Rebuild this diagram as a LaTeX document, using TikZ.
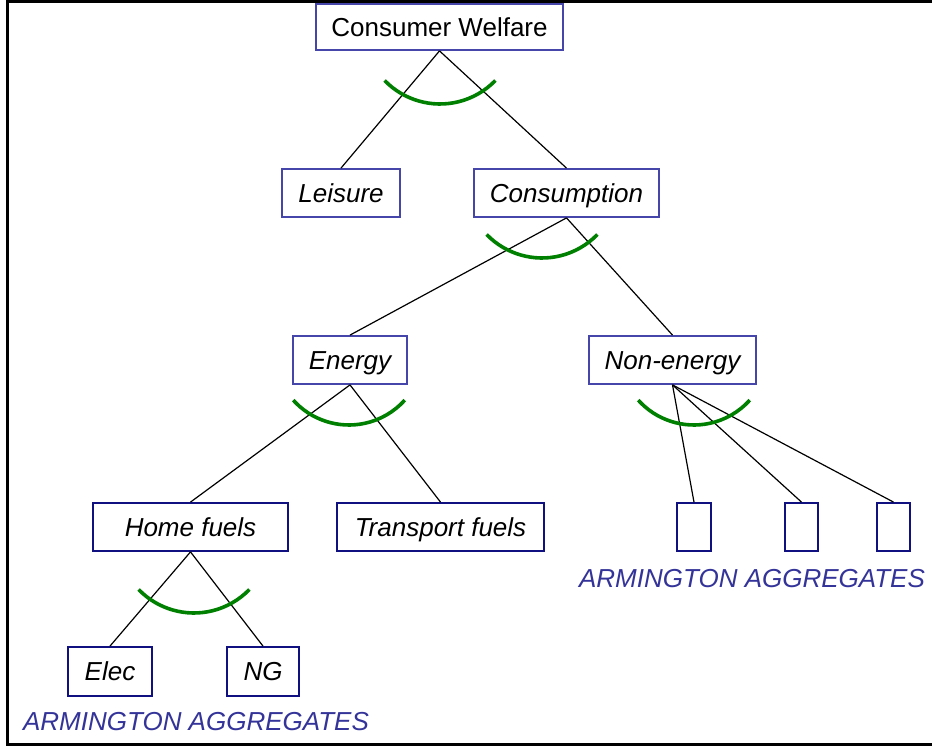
\documentclass[tikz,border=0pt]{standalone}
\usepackage{fontspec}
\setmainfont{Liberation Sans}
\definecolor{boxhi}{RGB}{70,70,170}
\definecolor{boxlo}{RGB}{16,16,128}
\definecolor{armc}{RGB}{51,51,153}
\definecolor{cesgreen}{RGB}{0,128,0}
\begin{document}
\begin{tikzpicture}[x=1pt,y=1pt,
  every node/.style={font=\fontsize{26}{30}\selectfont, inner sep=0pt, text height=18.7pt, text depth=0pt},
  it/.style={font=\fontsize{26}{30}\selectfont\itshape},
  boxa/.style={draw=boxhi, line width=1.8pt, fill=white},
  boxb/.style={draw=boxlo, line width=1.8pt, fill=white},
  link/.style={draw=black, line width=1.2pt},
  ces/.style={draw=cesgreen, line width=3.6pt},
  armtext/.style={text=armc, font=\fontsize{26}{30}\selectfont\itshape}]
\useasboundingbox (0,0) rectangle (932,747);
\fill[white] (0,0) rectangle (932,747);
% frame
\draw[line width=3pt] (940,745) -- (7,745) -- (7,2) -- (940,2);
% nodes
\node[boxa, minimum width=247pt, minimum height=46pt] (cw) at (439.5,720) {Consumer Welfare};
\node[boxa, it, minimum width=118pt, minimum height=48pt] (leisure) at (341,554) {Leisure};
\node[boxa, it, minimum width=185pt, minimum height=48pt] (cons) at (566.5,554) {Consumption};
\node[boxa, it, minimum width=114pt, minimum height=48pt] (energy) at (350,387) {Energy};
\node[boxa, it, minimum width=167pt, minimum height=48pt] (nonen) at (672.5,387) {Non-energy};
\node[boxb, it, minimum width=195pt, minimum height=48pt] (home) at (190.5,220) {Home fuels};
\node[boxb, it, minimum width=207pt, minimum height=48pt] (trans) at (440.5,220) {Transport fuels};
\node[boxb, minimum width=34pt, minimum height=48pt] (a1) at (694,220) {};
\node[boxb, minimum width=33pt, minimum height=48pt] (a2) at (801.5,220) {};
\node[boxb, minimum width=33pt, minimum height=48pt] (a3) at (893.5,220) {};
\node[boxb, it, minimum width=84pt, minimum height=49pt] (elec) at (110,75.5) {Elec};
\node[boxb, it, minimum width=72pt, minimum height=49pt] (ng) at (263,75.5) {NG};
\node[armtext] (arm1) at (196,26) {ARMINGTON AGGREGATES};
\node[armtext] (arm2) at (752,169) {ARMINGTON AGGREGATES};
% connectors
\draw[link] (cw.south) -- (leisure.north);
\draw[link] (cw.south) -- (cons.north);
\draw[link] (cons.south) -- (energy.north);
\draw[link] (cons.south) -- (nonen.north);
\draw[link] (energy.south) -- (home.north);
\draw[link] (energy.south) -- (trans.north);
\draw[link] (nonen.south) -- (a1.north);
\draw[link] (nonen.south) -- (a2.north);
\draw[link] (nonen.south) -- (a3.north);
\draw[link] (home.south) -- (elec.north);
\draw[link] (home.south) -- (ng.north);
% CES arcs
\draw[ces] (440,720) ++(224:77) arc[start angle=224, end angle=316, radius=77];
\draw[ces] (542,566) ++(224:77) arc[start angle=224, end angle=316, radius=77];
\draw[ces] (349,397) ++(222:75) arc[start angle=222, end angle=318, radius=75];
\draw[ces] (694,397) ++(222:75) arc[start angle=222, end angle=318, radius=75];
\draw[ces] (194,211) ++(224:77) arc[start angle=224, end angle=316, radius=77];
\end{tikzpicture}
\end{document}
